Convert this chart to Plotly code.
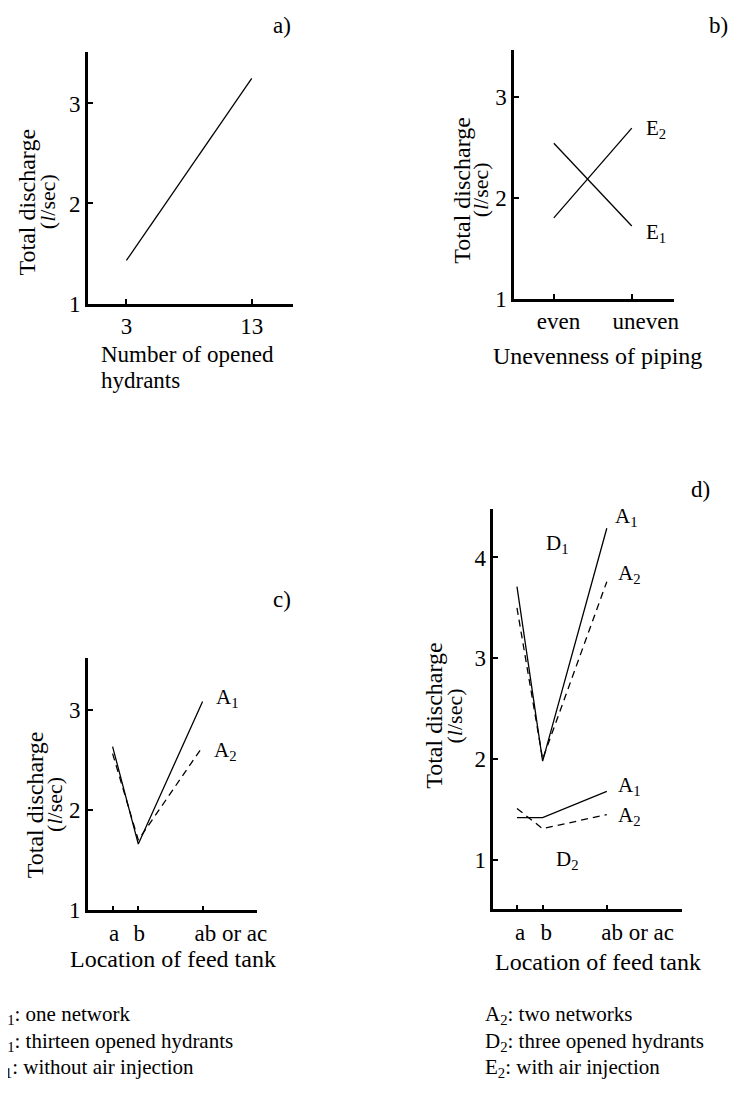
import plotly.graph_objects as go

W, H = 740, 1111
FONT = "Liberation Serif, Times New Roman, Times, serif"

# ---------------- data ----------------
# a) number of opened hydrants
a_hydrants = [3, 13]
a_discharge = [1.43, 3.25]

# b) unevenness of piping
b_cats = ["even", "uneven"]
b_pos = [0, 1]
b_E1 = [2.54, 1.72]   # without air injection
b_E2 = [1.80, 2.69]   # with air injection

# c) / d) location of feed tank
loc_labels = ["a", "b", "ab or ac"]
loc_pos = [1, 2, 4.5]
c_A1 = [2.63, 1.66, 3.08]
c_A2 = [2.56, 1.70, 2.63]
d1_A1 = [3.71, 1.98, 4.29]
d1_A2 = [3.50, 2.00, 3.76]
d2_A1 = [1.42, 1.42, 1.68]
d2_A2 = [1.51, 1.31, 1.45]

legend_left = ["A<sub>1</sub>: one network",
               "D<sub>1</sub>: thirteen opened hydrants",
               "E<sub>1</sub>: without air injection"]
legend_right = ["A<sub>2</sub>: two networks",
                "D<sub>2</sub>: three opened hydrants",
                "E<sub>2</sub>: with air injection"]

# where the printed labels sit relative to their tick marks (layout only)
b_label_shift = [0.06, 0.18]
c_label_shift = [0.06, 0.04, 1.1]
d_label_shift = [0.12, 0.14, 1.2]


def px(x):
    return x / W


def py(y):
    return 1 - y / H


fig = go.Figure()

solid = dict(color="black", width=1.3)
dashed = dict(color="black", width=1.3, dash="7px,5px")

fig.add_trace(go.Scatter(x=a_hydrants, y=a_discharge, mode="lines", line=solid,
                         xaxis="x", yaxis="y", showlegend=False))
fig.add_trace(go.Scatter(x=b_pos, y=b_E1, mode="lines", line=solid,
                         xaxis="x2", yaxis="y2", showlegend=False))
fig.add_trace(go.Scatter(x=b_pos, y=b_E2, mode="lines", line=solid,
                         xaxis="x2", yaxis="y2", showlegend=False))
fig.add_trace(go.Scatter(x=loc_pos, y=c_A1, mode="lines", line=solid,
                         xaxis="x3", yaxis="y3", showlegend=False))
fig.add_trace(go.Scatter(x=loc_pos, y=c_A2, mode="lines", line=dashed,
                         xaxis="x3", yaxis="y3", showlegend=False))
for ys, ln in [(d1_A1, solid), (d1_A2, dashed), (d2_A1, solid), (d2_A2, dashed)]:
    fig.add_trace(go.Scatter(x=loc_pos, y=ys, mode="lines", line=ln,
                             xaxis="x4", yaxis="y4", showlegend=False))

tickfont = dict(family=FONT, size=23, color="black")
axis_common = dict(showline=True, linewidth=2.5, linecolor="black", ticks="inside",
                   ticklen=5, tickwidth=2, tickcolor="black", showgrid=False,
                   zeroline=False, tickfont=tickfont)
xaxis_common = dict(axis_common, tickangle=0)


def cat_axis(domain, rng, anchor, pos, labels, shift):
    d = dict(xaxis_common)
    d.update(domain=domain, range=rng, anchor=anchor, ticklen=0,
             tickvals=[p + s for p, s in zip(pos, shift)], ticktext=labels,
             minor=dict(tickmode="array", tickvals=pos, ticks="inside", ticklen=5,
                        tickwidth=2, tickcolor="black", showgrid=False))
    return d


fig.update_layout(
    width=W, height=H, margin=dict(l=0, r=0, t=0, b=0),
    paper_bgcolor="white", plot_bgcolor="white",
    font=dict(family=FONT, color="black"),
    # a
    xaxis=dict(domain=[px(81), px(289)], range=[-0.07, 16.3], anchor="y",
               tickvals=a_hydrants, ticktext=["3", "13"], **xaxis_common),
    yaxis=dict(domain=[py(299), py(45)], range=[1, 3.51], anchor="x",
               tickvals=[1, 2, 3], ticktext=["1", "2", "3"], **axis_common),
    # b
    xaxis2=cat_axis([px(513), px(675)], [-0.51, 1.54], "y2", b_pos, b_cats, b_label_shift),
    yaxis2=dict(domain=[py(294), py(42)], range=[1, 3.47], anchor="x2",
                tickvals=[1, 2, 3], ticktext=["1", "2", "3"], **axis_common),
    # c
    xaxis3=cat_axis([px(81), px(252)], [0.04, 6.6], "y3", loc_pos, loc_labels, c_label_shift),
    yaxis3=dict(domain=[py(913), py(658)], range=[1, 3.51], anchor="x3",
                tickvals=[1, 2, 3], ticktext=["1", "2", "3"], **axis_common),
    # d
    xaxis4=cat_axis([px(492), px(683)], [0.08, 7.42], "y4", loc_pos, loc_labels, d_label_shift),
    yaxis4=dict(domain=[py(912), py(507)], range=[0.51, 4.48], anchor="x4",
                tickvals=[1, 2, 3, 4], ticktext=["1", "2", "3", "4"], **axis_common),
)

annotations = []


def text(x, y, s, size=23, xanchor="center", yanchor="middle", angle=0, align="center"):
    annotations.append(dict(x=px(x), y=py(y), xref="paper", yref="paper", text=s,
                            showarrow=False, xanchor=xanchor, yanchor=yanchor,
                            textangle=angle, align=align, borderpad=0,
                            font=dict(family=FONT, size=size, color="black")))


# panel letters
text(278, 18, "a)")
text(720, 18, "b)")
text(278, 598, "c)")
text(702, 487, "d)")

# y-axis titles
for xt, xs, yc in [(19, 40, 196), (460, 479, 184), (27, 47, 806), (431, 453, 716)]:
    text(xt, yc, "Total discharge", size=24, angle=-90)
    text(xs, yc, "(<i>l</i>/sec)", size=22, angle=-90)

# x-axis titles
text(93, 351, "Number of opened", size=23, xanchor="left")
text(93, 377, "hydrants", size=23, xanchor="left")
text(598, 352, "Unevenness of piping", size=24)
text(167, 962, "Location of feed tank", size=24)
text(598, 965, "Location of feed tank", size=24)

# series labels
text(657, 122, "E<sub>2</sub>", size=21)
text(657, 228, "E<sub>1</sub>", size=21)
text(223, 698, "A<sub>1</sub>", size=21)
text(220, 752, "A<sub>2</sub>", size=21)
text(557, 542, "D<sub>1</sub>", size=21)
text(627, 515, "A<sub>1</sub>", size=21)
text(630, 573, "A<sub>2</sub>", size=21)
text(630, 787, "A<sub>1</sub>", size=21)
text(630, 818, "A<sub>2</sub>", size=21)
text(567, 862, "D<sub>2</sub>", size=21)

# legend text
for i, (l, r) in enumerate(zip(legend_left, legend_right)):
    y = 1019 + i * 27
    text(-17, y, l, size=21, xanchor="left")
    text(483, y, r, size=21, xanchor="left")

fig.update_layout(annotations=annotations)
fig.write_html("out.html")
